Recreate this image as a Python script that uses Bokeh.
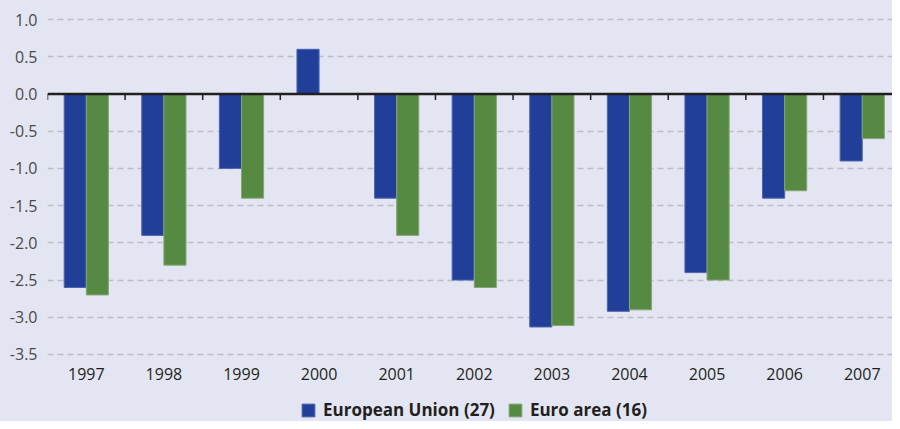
from bokeh.plotting import figure
from bokeh.layouts import column
from bokeh.models import ColumnDataSource, FixedTicker, PrintfTickFormatter, Legend, LegendItem, Range1d
from bokeh.embed import file_html
from bokeh.resources import INLINE
import math

# ---- data ----
years = ["1997", "1998", "1999", "2000", "2001", "2002", "2003", "2004", "2005", "2006", "2007"]
eu27 = [-2.6, -1.9, -1.0, 0.6, -1.4, -2.5, -3.13, -2.92, -2.4, -1.4, -0.9]
ea16 = [-2.7, -2.3, -1.4, float("nan"), -1.9, -2.6, -3.11, -2.9, -2.5, -1.3, -0.6]
series_names = ["European Union (27)", "Euro area (16)"]
y_ticks = [1.0, 0.5, 0.0, -0.5, -1.0, -1.5, -2.0, -2.5, -3.0, -3.5]

BG = "#e3e6f2"
BLUE = "#213f99"
GREEN = "#568a42"
BLUE_EDGE = "#4d64ae"
GREEN_EDGE = "#86a578"
FONT = "Open Sans"

n = len(years)
bar_w = 0.285
centers = [i + 0.5 for i in range(n)]

src_eu = ColumnDataSource(dict(x=[c - bar_w / 2 for c in centers], top=eu27))
src_ea = ColumnDataSource(dict(
    x=[c + bar_w / 2 for c, v in zip(centers, ea16) if not math.isnan(v)],
    top=[v for v in ea16 if not math.isnan(v)]))

p = figure(width=892, height=391, output_backend="svg", toolbar_location=None,
           x_range=Range1d(0, n - 0.11), y_range=Range1d(-3.6075, 1.148),
           min_border_left=47, min_border_right=0, min_border_top=8, min_border_bottom=29)
p.background_fill_color = BG
p.border_fill_color = BG
p.outline_line_color = None

p.vbar(x="x", top="top", bottom=0, width=bar_w, source=src_eu,
       fill_color=BLUE, line_color=BLUE_EDGE, line_width=1)
p.vbar(x="x", top="top", bottom=0, width=bar_w, source=src_ea,
       fill_color=GREEN, line_color=GREEN_EDGE, line_width=1)

# zero line with small tick marks at category boundaries
p.segment(x0=[0], y0=[0], x1=[n], y1=[0], line_color="#231f20", line_width=2.5)
bounds = list(range(n + 1))
p.segment(x0=bounds, y0=[0] * len(bounds), x1=bounds, y1=[-0.08] * len(bounds),
          line_color="#231f20", line_width=1.5)

# grid
p.xgrid.grid_line_color = None
p.ygrid.ticker = FixedTicker(ticks=[t for t in y_ticks if t != 0.0])
p.ygrid.grid_line_color = "#bcbdc6"
p.ygrid.grid_line_width = 1.3
p.ygrid.grid_line_dash = "6 4"

# y axis
p.yaxis.ticker = FixedTicker(ticks=y_ticks)
p.yaxis.formatter = PrintfTickFormatter(format="%.1f")
p.yaxis.axis_line_color = None
p.yaxis.major_tick_line_color = None
p.yaxis.minor_tick_line_color = None
p.yaxis.major_tick_out = 0
p.yaxis.major_label_text_font = FONT
p.yaxis.major_label_text_font_size = "16px"
p.yaxis.major_label_text_color = "#4a4a4a"
p.yaxis.major_label_standoff = 10

# x axis
p.xaxis.ticker = FixedTicker(ticks=centers)
p.xaxis.major_label_overrides = {c: y for c, y in zip(centers, years)}
p.xaxis.axis_line_color = None
p.xaxis.major_tick_line_color = None
p.xaxis.minor_tick_line_color = None
p.xaxis.major_tick_out = 0
p.xaxis.major_label_text_font = FONT
p.xaxis.major_label_text_font_size = "16px"
p.xaxis.major_label_text_color = "#231f20"
p.xaxis.major_label_standoff = 5

# ---- legend strip below the chart (series drawn out of view, only keys show) ----
lg = figure(width=892, height=30, output_backend="svg", toolbar_location=None,
            x_range=Range1d(0, n), y_range=Range1d(5, 6),
            x_axis_location=None, y_axis_location=None,
            min_border_left=47, min_border_right=0, min_border_top=0, min_border_bottom=0)
lg.background_fill_color = BG
lg.border_fill_color = BG
lg.outline_line_color = None
lg.grid.visible = False
k1 = lg.vbar(x="x", top="top", bottom=0, width=bar_w, source=src_eu,
             fill_color=BLUE, line_color=BLUE_EDGE, line_width=1)
k2 = lg.vbar(x="x", top="top", bottom=0, width=bar_w, source=src_ea,
             fill_color=GREEN, line_color=GREEN_EDGE, line_width=1)

legend = Legend(items=[LegendItem(label=series_names[0], renderers=[k1]),
                       LegendItem(label=series_names[1], renderers=[k2])],
                orientation="horizontal", location=(253, 0))
legend.background_fill_alpha = 0
legend.border_line_alpha = 0
legend.padding = 0
legend.margin = 0
legend.spacing = 12
legend.glyph_width = 16
legend.glyph_height = 16
legend.label_height = 20
legend.label_standoff = 7
legend.label_text_font = FONT
legend.label_text_font_style = "bold"
legend.label_text_font_size = "17px"
legend.label_text_color = "#231f20"
lg.add_layout(legend)

layout = column(p, lg, spacing=0, styles={"background-color": BG})
open("out.html", "w").write(file_html(layout, INLINE))
